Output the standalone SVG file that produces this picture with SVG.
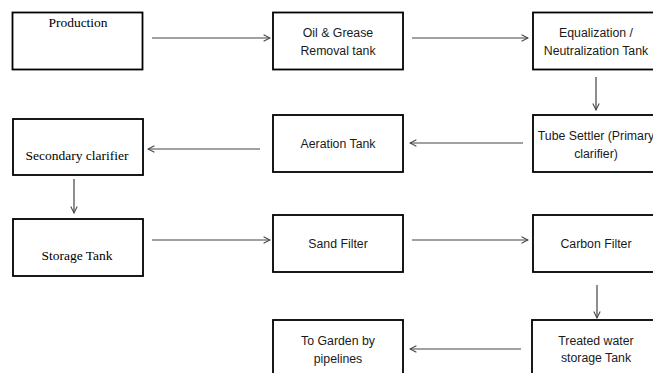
<svg xmlns="http://www.w3.org/2000/svg" width="653" height="373" viewBox="0 0 653 373">
<defs>
<style>
.box{fill:#fff;stroke:#000;stroke-width:1.8}
.s{font-family:"Liberation Sans",Arial,sans-serif;font-size:12.3px;fill:#1a1a1a;text-anchor:middle}
.t{font-family:"Liberation Serif","Times New Roman",serif;font-size:13.5px;fill:#000;text-anchor:middle}
.c{stroke:#444;stroke-width:1.2;fill:none}
</style>
<marker id="ah" viewBox="0 0 10 10" refX="9" refY="5" markerWidth="8" markerHeight="8" orient="auto" markerUnits="userSpaceOnUse">
<path d="M1,1 L9,5 L1,9" fill="none" stroke="#444" stroke-width="1.3"/>
</marker>
</defs>
<rect width="653" height="373" fill="#fff"/>
<g id="production"><rect class="box" x="12.5" y="12.5" width="130" height="57"/><text class="t" x="78" y="27">Production</text></g>
<g id="oil"><rect class="box" x="273" y="12.5" width="130" height="57"/><text class="s" x="338" y="37">Oil &amp; Grease</text><text class="s" x="338" y="55">Removal tank</text></g>
<g id="equalization"><rect class="box" x="533" y="12.5" width="130" height="57"/><text class="s" x="596" y="37">Equalization /</text><text class="s" x="596" y="55">Neutralization Tank</text></g>
<g id="tube"><rect class="box" x="533" y="115" width="130" height="57"/><text class="s" x="596" y="140">Tube Settler (Primary</text><text class="s" x="596" y="158">clarifier)</text></g>
<g id="aeration"><rect class="box" x="273" y="115" width="130" height="57"/><text class="s" x="338" y="148">Aeration Tank</text></g>
<g id="secondary"><rect class="box" x="13" y="119" width="130" height="56"/><text class="t" x="77" y="160">Secondary clarifier</text></g>
<g id="storage"><rect class="box" x="13" y="219" width="130" height="57"/><text class="t" x="77" y="260">Storage Tank</text></g>
<g id="sand"><rect class="box" x="273" y="215" width="130" height="57"/><text class="s" x="338" y="248">Sand Filter</text></g>
<g id="carbon"><rect class="box" x="533" y="215" width="130" height="57"/><text class="s" x="596" y="248">Carbon Filter</text></g>
<g id="treated"><rect class="box" x="532" y="320" width="130" height="60"/><text class="s" x="596" y="345">Treated water</text><text class="s" x="596" y="362">storage Tank</text></g>
<g id="garden"><rect class="box" x="273" y="320" width="130" height="60"/><text class="s" x="338" y="345">To Garden by</text><text class="s" x="338" y="363">pipelines</text></g>
<g id="connectors">
<line class="c" x1="152" y1="38" x2="270" y2="38" marker-end="url(#ah)"/>
<line class="c" x1="412" y1="38" x2="528" y2="38" marker-end="url(#ah)"/>
<line class="c" x1="596" y1="77" x2="596" y2="110" marker-end="url(#ah)"/>
<line class="c" x1="523" y1="143" x2="410" y2="143" marker-end="url(#ah)"/>
<line class="c" x1="260" y1="149" x2="148" y2="149" marker-end="url(#ah)"/>
<line class="c" x1="74" y1="179" x2="74" y2="213" marker-end="url(#ah)"/>
<line class="c" x1="152" y1="240" x2="270" y2="240" marker-end="url(#ah)"/>
<line class="c" x1="412" y1="240" x2="528" y2="240" marker-end="url(#ah)"/>
<line class="c" x1="597" y1="285" x2="597" y2="318" marker-end="url(#ah)"/>
<line class="c" x1="521" y1="349" x2="410" y2="349" marker-end="url(#ah)"/>
</g>
</svg>
